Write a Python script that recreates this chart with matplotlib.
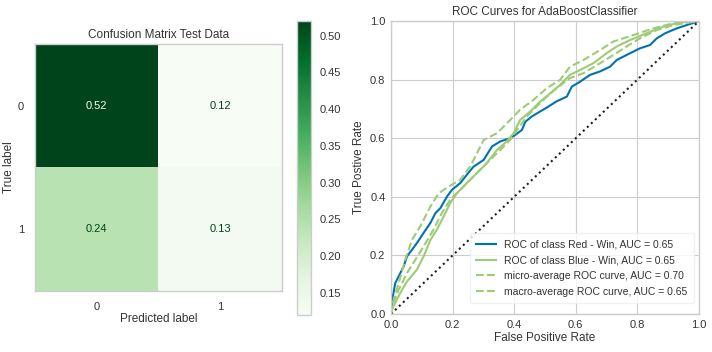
import numpy as np
import matplotlib
matplotlib.use("Agg")
import matplotlib.pyplot as plt
from matplotlib.colors import Normalize

plt.rcParams['font.family'] = ['Liberation Sans', 'DejaVu Sans']

# ---- Confusion matrix data ----
cm_classes = ["0", "1"]
cm_values = [[0.52, 0.12],
             [0.24, 0.13]]

# ---- ROC data ----
red_fpr = [0.0, 0.003, 0.014, 0.041, 0.052, 0.068, 0.084, 0.106, 0.128, 0.144, 0.16, 0.182, 0.198,
           0.225, 0.246, 0.268, 0.301, 0.328, 0.355, 0.387, 0.403, 0.425, 0.436, 0.457, 0.484, 0.511,
           0.538, 0.571, 0.587, 0.614, 0.646, 0.679, 0.711, 0.733, 0.776, 0.809, 0.841, 0.863, 0.89,
           0.928, 0.96, 1.0]
red_tpr = [0.0, 0.043, 0.106, 0.162, 0.197, 0.219, 0.242, 0.277, 0.311, 0.344, 0.361, 0.401, 0.424,
           0.447, 0.475, 0.503, 0.526, 0.572, 0.589, 0.6, 0.611, 0.628, 0.656, 0.674, 0.691, 0.708,
           0.726, 0.742, 0.776, 0.793, 0.816, 0.828, 0.844, 0.867, 0.89, 0.907, 0.918, 0.941, 0.958,
           0.975, 0.986, 1.0]

blue_fpr = [0.0, 0.003, 0.019, 0.036, 0.052, 0.084, 0.106, 0.128, 0.149, 0.171, 0.192, 0.214, 0.246,
            0.279, 0.311, 0.344, 0.376, 0.398, 0.419, 0.452, 0.484, 0.517, 0.549, 0.581, 0.614, 0.657,
            0.7, 0.733, 0.776, 0.83, 0.884, 0.938, 1.0]
blue_tpr = [0.0, 0.015, 0.049, 0.083, 0.111, 0.151, 0.197, 0.253, 0.288, 0.333, 0.378, 0.412, 0.447,
            0.481, 0.515, 0.56, 0.589, 0.617, 0.662, 0.691, 0.725, 0.753, 0.782, 0.816, 0.833, 0.856,
            0.89, 0.913, 0.935, 0.958, 0.981, 0.995, 1.0]

micro_fpr = [0.0, 0.009, 0.025, 0.046, 0.068, 0.095, 0.128, 0.155, 0.187, 0.225, 0.257, 0.301, 0.344,
             0.387, 0.419, 0.463, 0.506, 0.549, 0.581, 0.625, 0.679, 0.722, 0.787, 0.852, 0.916, 1.0]
micro_tpr = [0.0, 0.049, 0.106, 0.185, 0.253, 0.299, 0.367, 0.412, 0.435, 0.458, 0.503, 0.594, 0.617,
             0.662, 0.697, 0.731, 0.771, 0.799, 0.844, 0.867, 0.901, 0.93, 0.952, 0.975, 0.992, 1.0]

macro_fpr = [0.0, 0.003, 0.025, 0.052, 0.079, 0.106, 0.138, 0.165, 0.192, 0.225, 0.257, 0.289, 0.322,
             0.355, 0.387, 0.409, 0.441, 0.473, 0.506, 0.538, 0.581, 0.625, 0.679, 0.722, 0.765, 0.809,
             0.863, 0.916, 1.0]
macro_tpr = [0.0, 0.026, 0.083, 0.14, 0.185, 0.231, 0.288, 0.344, 0.39, 0.424, 0.458, 0.492, 0.526,
             0.56, 0.594, 0.628, 0.674, 0.708, 0.742, 0.771, 0.805, 0.822, 0.856, 0.884, 0.913, 0.941,
             0.969, 0.986, 1.0]

roc_labels = ["ROC of class Red - Win, AUC = 0.65",
              "ROC of class Blue - Win, AUC = 0.65",
              "micro-average ROC curve, AUC = 0.70",
              "macro-average ROC curve, AUC = 0.65"]

TXT = "#333333"
GRID = "#cccccc"
BLUE = "#0072B2"
GREEN = "#9DCB76"

fig = plt.figure(figsize=(7.12, 3.52), dpi=100)
W, H = 712.0, 352.0

def rect(x0, y0, x1, y1):
    return [x0 / W, 1 - y1 / H, (x1 - x0) / W, (y1 - y0) / H]

fs = 8

# ---- Confusion matrix ----
ax1 = fig.add_axes(rect(35, 44, 282, 291))
cmv = np.array(cm_values)
norm = Normalize(vmin=cmv.min(), vmax=cmv.max())
cmap = plt.get_cmap("Greens")
im = ax1.imshow(cmv, cmap=cmap, norm=norm, interpolation="nearest", aspect="auto")
thresh = (cmv.max() + cmv.min()) / 2.0
for i in range(cmv.shape[0]):
    for j in range(cmv.shape[1]):
        col = cmap(0.0) if cmv[i, j] > thresh else cmap(1.0)
        ax1.text(j, i, f"{cmv[i, j]:.2f}", ha="center", va="center", color=col, fontsize=fs)
ax1.set_xticks(range(len(cm_classes)))
ax1.set_xticklabels(cm_classes)
ax1.set_yticks(range(len(cm_classes)))
ax1.set_yticklabels(cm_classes)
ax1.set_xlabel("Predicted label", fontsize=fs + 0.5, color=TXT, labelpad=1)
ax1.set_ylabel("True label", fontsize=fs + 0.5, color=TXT)
ax1.yaxis.set_label_coords(-0.08, 0.5)
ax1.set_title("Confusion Matrix Test Data", fontsize=fs + 0.5, color=TXT, pad=4)
ax1.tick_params(length=0, labelsize=fs, colors=TXT, pad=8)
ax1.grid(False)
for s in ax1.spines.values():
    s.set_color(GRID)
    s.set_linewidth(1.0)

cax = fig.add_axes(rect(297, 21, 311, 315))
cb = fig.colorbar(im, cax=cax)
cb.set_ticks([0.15, 0.20, 0.25, 0.30, 0.35, 0.40, 0.45, 0.50])
cb.ax.tick_params(length=0, labelsize=fs, colors=TXT, pad=6)
cb.outline.set_edgecolor(GRID)
cb.outline.set_linewidth(1.0)

# ---- ROC curves ----
ax2 = fig.add_axes(rect(391, 21, 699, 314))
ax2.set_axisbelow(True)
ax2.grid(True, color=GRID, linewidth=0.8)
ax2.plot(red_fpr, red_tpr, color=BLUE, lw=1.5, label=roc_labels[0])
ax2.plot(blue_fpr, blue_tpr, color=GREEN, lw=1.5, label=roc_labels[1])
ax2.plot(micro_fpr, micro_tpr, color=GREEN, lw=1.5, ls="--", label=roc_labels[2])
ax2.plot(macro_fpr, macro_tpr, color=GREEN, lw=1.5, ls="--", label=roc_labels[3])
ax2.plot([0, 1], [0, 1], color="#222222", ls=":", lw=1.5)
ax2.set_xlim(0, 1)
ax2.set_ylim(0, 1)
ax2.set_xticks([0, 0.2, 0.4, 0.6, 0.8, 1.0])
ax2.set_yticks([0, 0.2, 0.4, 0.6, 0.8, 1.0])
ax2.set_xlabel("False Positive Rate", fontsize=fs + 0.5, color=TXT, labelpad=2)
ax2.set_ylabel("True Postive Rate", fontsize=fs + 0.5, color=TXT, labelpad=4)
ax2.set_title("ROC Curves for AdaBoostClassifier", fontsize=fs + 0.5, color=TXT, pad=4)
ax2.tick_params(length=0, labelsize=fs, colors=TXT, pad=4)
for s in ax2.spines.values():
    s.set_color(GRID)
    s.set_linewidth(1.0)
leg = ax2.legend(loc="lower right", fontsize=fs - 0.5, frameon=True, framealpha=0.8,
                 edgecolor="#eeeeee", handlelength=1.9, borderpad=0.6, labelspacing=0.55,
                 bbox_to_anchor=(1.0, 0.02))
for t in leg.get_texts():
    t.set_color(TXT)

fig.savefig("out.png", dpi=100)
